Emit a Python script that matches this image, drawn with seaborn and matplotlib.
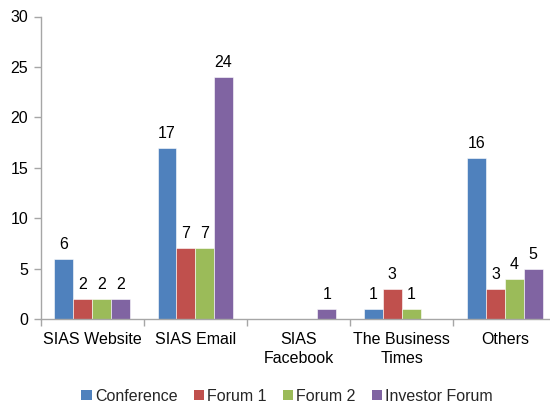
import matplotlib
matplotlib.use("Agg")
import matplotlib.pyplot as plt
import seaborn as sns
import pandas as pd
import numpy as np

categories = ["SIAS Website", "SIAS Email", "SIAS\nFacebook", "The Business\nTimes", "Others"]
series = ["Conference", "Forum 1", "Forum 2", "Investor Forum"]
conference = [6, 17, 0, 1, 16]
forum1 = [2, 7, 0, 3, 3]
forum2 = [2, 7, 0, 1, 4]
investor = [2, 24, 1, 0, 5]
colors = ["#4F81BD", "#C0504D", "#9BBB59", "#8064A2"]

rows = []
for s, vals in zip(series, [conference, forum1, forum2, investor]):
    for c, v in zip(categories, vals):
        rows.append({"Category": c, "Series": s, "Value": v})
df = pd.DataFrame(rows)

sns.set_theme(style="white")
plt.rcParams['font.family'] = ['Liberation Sans', 'DejaVu Sans']

FS = 11.5
fig = plt.figure(figsize=(5.5, 4.05), dpi=100)
ax = fig.add_axes([40.5/550, 1-319/405, 516/550, (319-16.5)/405])

sns.barplot(data=df, x="Category", y="Value", hue="Series", order=categories,
            hue_order=series, palette=colors, width=0.73, ax=ax,
            edgecolor="white", linewidth=0.4, saturation=1, errorbar=None)

for cont in ax.containers:
    labels = [f"{int(v)}" if v > 0 else "" for v in cont.datavalues]
    ax.bar_label(cont, labels=labels, padding=5, fontsize=FS, color="#000000")

ax.set_ylim(0, 30)
ax.set_yticks([0, 5, 10, 15, 20, 25, 30])
ax.set_xlim(-0.5, 4.5)
ax.set_xlabel("")
ax.set_ylabel("")
for s in ["top", "right"]:
    ax.spines[s].set_visible(False)
for s in ["left", "bottom"]:
    ax.spines[s].set_color("#A6A6A6")
    ax.spines[s].set_linewidth(1)

ax.tick_params(axis="y", which="major", left=True, length=5, width=1, color="#A6A6A6",
               labelsize=FS, labelcolor="#000000", pad=4)
ax.tick_params(axis="x", which="major", bottom=False, length=0, labelsize=FS,
               labelcolor="#000000", pad=9, labelrotation=0)
for lbl in ax.get_xticklabels():
    lbl.set_linespacing(1.4)
ax.set_xticks(np.arange(-0.5, 5.0, 1.0), minor=True)
ax.tick_params(axis="x", which="minor", bottom=True, length=5, width=1, color="#A6A6A6")

handles, labels = ax.get_legend_handles_labels()
ax.get_legend().remove()
leg = fig.legend(handles, labels, loc="center", bbox_to_anchor=(0.522, 0.022), ncol=4,
                 frameon=False, fontsize=FS, handlelength=0.65, handleheight=0.65,
                 handletextpad=0.2, columnspacing=1.0, borderaxespad=0, borderpad=0)
for h in leg.legend_handles:
    h.set_edgecolor("none")

fig.savefig("out.png", dpi=100)
